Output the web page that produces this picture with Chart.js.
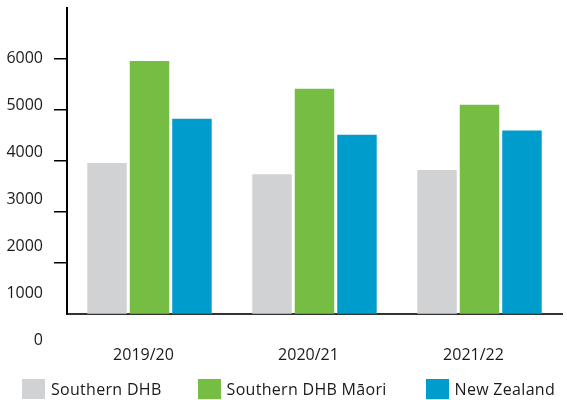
<!DOCTYPE html>
<html>
<head>
<meta charset="utf-8">
<script src="https://cdn.jsdelivr.net/npm/chart.js@4/dist/chart.umd.min.js"></script>
<style>
  html, body { margin: 0; padding: 0; background: #fff; }
  #wrap { position: relative; width: 567px; height: 400px; }
  #legend {
    position: absolute; left: 22px; top: 379px;
    display: flex;
    font-family: 'Open Sans', 'Noto Sans', sans-serif; font-size: 16px; color: #1a1a1a;
    letter-spacing: 0.3px;
  }
  #legend .item { display: flex; align-items: center; height: 20px; }
  #legend .item:nth-child(2) { margin-left: 36px; }
  #legend .item:nth-child(3) { margin-left: 39px; }
  #legend .box { width: 23px; height: 20px; margin-right: 6px; }
</style>
</head>
<body>
<div id="wrap">
  <canvas id="chart"></canvas>
  <div id="legend"></div>
</div>
<script>
// Years shown on the x axis
const years = ["2019/20", "2020/21", "2021/22"];

// Series values
const southernDhb = [3770, 3530, 3620];
const southernDhbMaori = [5940, 5350, 5010];
const newZealand = [4710, 4370, 4460];

// Labels printed on the value axis
const yTickLabels = [0, 1000, 2000, 3000, 4000, 5000, 6000];

const FONT = "'Open Sans', 'Noto Sans', sans-serif";
const TEXT = "#1a1a1a";

const ctx = document.getElementById("chart").getContext("2d");

const barOpts = {
  yAxisID: "yl",
  borderWidth: 0,
  categoryPercentage: 0.772,
  barPercentage: 0.93,
};

const chart = new Chart(ctx, {
  type: "bar",
  data: {
    labels: years,
    datasets: [
      { label: "Southern DHB", data: southernDhb, backgroundColor: "#d1d2d4", ...barOpts },
      { label: "Southern DHB Māori", data: southernDhbMaori, backgroundColor: "#76be43", ...barOpts },
      { label: "New Zealand", data: newZealand, backgroundColor: "#009ccb", ...barOpts },
    ],
  },
  options: {
    responsive: true,
    maintainAspectRatio: false,
    animation: false,
    layout: { padding: { left: 0, right: 5, top: 8, bottom: 11 } },
    plugins: {
      tooltip: { enabled: false },
      legend: { display: false },
    },
    scales: {
      x: {
        grid: { display: false },
        border: { display: true, color: "#333", width: 2 },
        ticks: {
          font: { family: FONT, size: 16 },
          color: TEXT,
          padding: 24,
          labelOffset: -6,
        },
      },
      // axis line and tick marks
      y: {
        position: "left",
        weight: 0,
        min: 1000,
        max: 7000,
        ticks: { display: false, stepSize: 1000 },
        grid: {
          drawOnChartArea: false,
          tickLength: 13,
          lineWidth: 1.5,
          color: (c) =>
            c.tick && (c.tick.value === 1000 || c.tick.value === 7000) ? "rgba(0,0,0,0)" : "#000",
        },
        border: { display: true, color: "#000", width: 2 },
        afterFit: (scale) => {
          scale.width = 13;
        },
      },
      // printed value labels
      yl: {
        position: "left",
        weight: 1,
        min: 557,
        max: 7071,
        grid: { display: false },
        border: { display: false },
        afterBuildTicks: (scale) => {
          scale.ticks = yTickLabels.map((v) => ({ value: v }));
        },
        afterFit: (scale) => {
          scale.width = 54;
          scale.paddingTop = 0;
          scale.paddingBottom = 0;
        },
        ticks: {
          autoSkip: false,
          padding: 3,
          font: { family: FONT, size: 16 },
          color: TEXT,
          callback: (v) => String(v),
        },
      },
    },
  },
});

// HTML legend built from the datasets
const legendEl = document.getElementById("legend");
chart.data.datasets.forEach((ds) => {
  const item = document.createElement("div");
  item.className = "item";
  const box = document.createElement("span");
  box.className = "box";
  box.style.background = ds.backgroundColor;
  const label = document.createElement("span");
  label.textContent = ds.label;
  item.appendChild(box);
  item.appendChild(label);
  legendEl.appendChild(item);
});
</script>
</body>
</html>
